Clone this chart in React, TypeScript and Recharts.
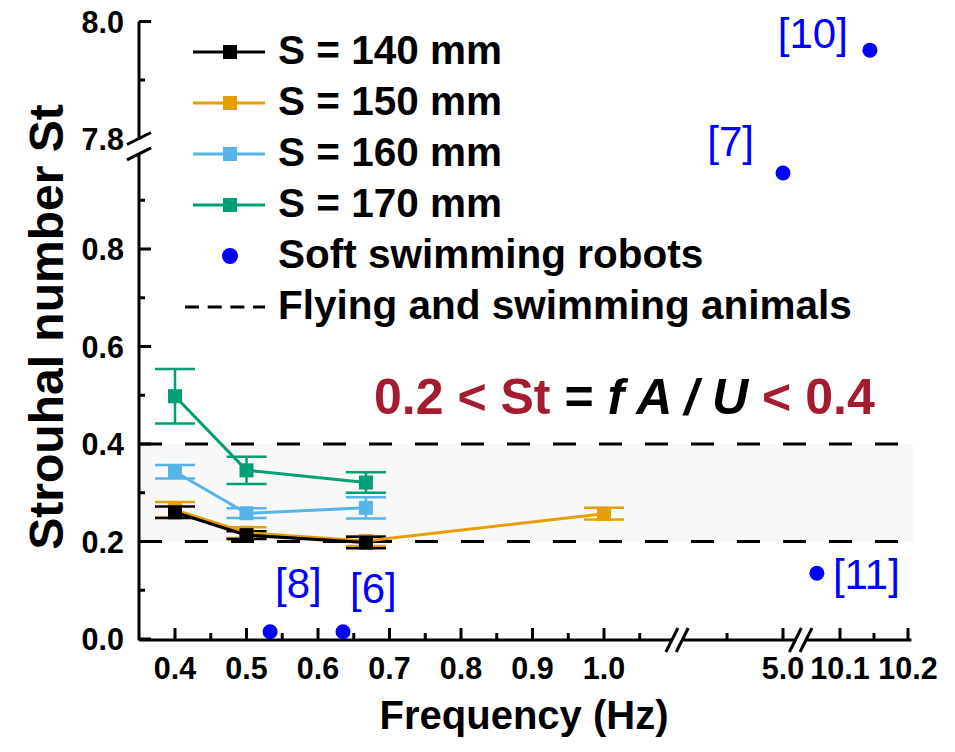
import React from 'react'
import {
  ComposedChart,
  Scatter,
  XAxis,
  YAxis,
  ErrorBar,
  ReferenceLine,
  ReferenceArea,
} from 'recharts'

// frequencies (Hz) and Strouhal numbers
const freqs = [0.4, 0.5, 0.667]
const freqs150 = [0.4, 0.5, 0.667, 1.0]

const st140 = [0.26, 0.213, 0.198]
const err140 = [0.012, 0.008, 0.012]
const st150 = [0.265, 0.218, 0.201, 0.257]
const err150 = [0.016, 0.011, 0.01, 0.012]
const st160 = [0.343, 0.258, 0.269]
const err160 = [0.014, 0.01, 0.022]
const st170 = [0.498, 0.346, 0.321]
const err170 = [0.056, 0.028, 0.021]

const robotRefs = ['[8]', '[6]', '[7]', '[11]', '[10]']
const robotFreq = [0.533, 0.635, 5.0, 10.066, 10.144]
const robotSt = [0.015, 0.015, 0.956, 0.135, 7.951]

const xMajorTicks = [0.4, 0.5, 0.6, 0.7, 0.8, 0.9, 1.0, 5.0, 10.1, 10.2]
const xMinorTicks = [0.45, 0.55, 0.65, 0.75, 0.85, 0.95, 1.05, 4.95, 10.15]
const yMajorTicks = [0, 0.2, 0.4, 0.6, 0.8, 8.0]
const yMinorTicks = [0.1, 0.3, 0.5, 0.7, 0.9, 7.9]
const yLabelOnlyTicks = [7.8]

// broken axes: each piece maps a value range onto a stretch of the plot
const X_PIECES = [
  { from: 0.35, to: 1.095, v0: 0.4, p0: 36, k: 715 },
  { from: 4.91, to: 5.011, v0: 5.0, p0: 644, k: 1120 },
  { from: 10.05, to: 10.205, v0: 10.1, p0: 701, k: 680 },
]
const Y_PIECES = [
  { from: 0, to: 0.995, v0: 0, p0: 0, k: 487.5 },
  { from: 7.8, to: 8.0, v0: 7.8, p0: 500.5, k: 585 },
]
const PLOT_W = 774
const PLOT_H = 624

type Piece = { from: number; to: number; v0: number; p0: number; k: number }
const pieceFor = (pieces: Piece[], v: number) =>
  pieces.find((p) => v >= p.from - 0.02 && v <= p.to + 0.02) ?? pieces[0]
const mapX = (v: number) => {
  const p = pieceFor(X_PIECES, v)
  return p.p0 + (v - p.v0) * p.k
}
const mapY = (v: number) => {
  const p = pieceFor(Y_PIECES, v)
  return p.p0 + (v - p.v0) * p.k
}

const FONT = 'Liberation Sans, Arial, Helvetica, sans-serif'
const RED = '#A51C30'
const BLUE = '#0000FF'

const series = [
  { name: 'S = 150 mm', color: '#E69F00', f: freqs150, st: st150, err: err150 },
  { name: 'S = 140 mm', color: '#000000', f: freqs, st: st140, err: err140 },
  { name: 'S = 160 mm', color: '#56B4E9', f: freqs, st: st160, err: err160 },
  { name: 'S = 170 mm', color: '#009E73', f: freqs, st: st170, err: err170 },
]

const toPoints = (f: number[], st: number[], err: number[]) =>
  f.map((v, i) => ({
    dx: mapX(v),
    dy: mapY(st[i]),
    err: err[i] * pieceFor(Y_PIECES, st[i]).k,
  }))

const robotData = robotRefs.map((name, i) => ({
  name,
  dx: mapX(robotFreq[i]),
  dy: mapY(robotSt[i]),
}))

// where each citation sits relative to its dot
const refLabelPos: Record<string, { dx: number; dy: number; anchor: 'start' | 'end' }> = {
  '[8]': { dx: 5, dy: -34, anchor: 'start' },
  '[6]': { dx: 7, dy: -29, anchor: 'start' },
  '[7]': { dx: -29, dy: -17, anchor: 'end' },
  '[11]': { dx: 16, dy: 16, anchor: 'start' },
  '[10]': { dx: -22, dy: -2, anchor: 'end' },
}

const fmt = (v: number) => v.toFixed(1)

const xTickInfo = [
  ...xMajorTicks.map((v) => ({ d: mapX(v), label: fmt(v), len: 12 })),
  ...xMinorTicks.map((v) => ({ d: mapX(v), label: '', len: 7 })),
]
const yTickInfo = [
  ...yMajorTicks.map((v) => ({ d: mapY(v), label: fmt(v), len: 12 })),
  ...yMinorTicks.map((v) => ({ d: mapY(v), label: '', len: 6 })),
  ...yLabelOnlyTicks.map((v) => ({ d: mapY(v), label: fmt(v), len: 0 })),
]

const XTick = ({ x, y, payload }: any) => {
  const t = xTickInfo.find((t) => Math.abs(t.d - payload.value) < 0.01)
  if (!t) return null
  return (
    <g>
      <line x1={x} x2={x} y1={y + 1} y2={y + 1 - t.len} stroke="#000" strokeWidth={3} />
      {t.label && (
        <text x={x} y={y + 40} textAnchor="middle" fontSize={30.5} fontWeight="bold" fontFamily={FONT} fill="#000">
          {t.label}
        </text>
      )}
    </g>
  )
}

const YTick = ({ x, y, payload }: any) => {
  const t = yTickInfo.find((t) => Math.abs(t.d - payload.value) < 0.01)
  if (!t) return null
  return (
    <g>
      {t.len > 0 && <line x1={x} x2={x + t.len} y1={y} y2={y} stroke="#000" strokeWidth={3} />}
      {t.label && (
        <text x={x - 15} y={y + 11} textAnchor="end" fontSize={30.5} fontWeight="bold" fontFamily={FONT} fill="#000">
          {t.label}
        </text>
      )}
    </g>
  )
}

const square = (color: string) => (p: any) =>
  <rect x={p.cx - 7} y={p.cy - 7} width={14} height={14} fill={color} />

const robotShape = (p: any) => {
  const pos = refLabelPos[p.payload.name]
  return (
    <g>
      <circle cx={p.cx} cy={p.cy} r={7.5} fill={BLUE} />
      <text x={p.cx + pos.dx} y={p.cy + pos.dy} textAnchor={pos.anchor} fontSize={42} fontFamily={FONT} fill={BLUE}>
        {p.payload.name}
      </text>
    </g>
  )
}

// axis line pieces and break marks, in plot units
const xAxisPieces = X_PIECES.map((p) => [mapX(p.from), mapX(p.to)])
const yAxisPieces = Y_PIECES.map((p) => [mapY(p.from), mapY(p.to)])
const xBreaks = xAxisPieces.flatMap(([a, b], i) =>
  [i > 0 ? a : null, i < xAxisPieces.length - 1 ? b : null].filter((v) => v !== null) as number[])
const yBreaks = yAxisPieces.flatMap(([a, b], i) =>
  [i > 0 ? a : null, i < yAxisPieces.length - 1 ? b : null].filter((v) => v !== null) as number[])

const legendRows = [
  { label: 'S = 140 mm', color: '#000000', kind: 'line' },
  { label: 'S = 150 mm', color: '#E69F00', kind: 'line' },
  { label: 'S = 160 mm', color: '#56B4E9', kind: 'line' },
  { label: 'S = 170 mm', color: '#009E73', kind: 'line' },
  { label: 'Soft swimming robots', color: BLUE, kind: 'dot' },
  { label: 'Flying and swimming animals', color: '#000000', kind: 'dash' },
]

export default function App() {
  return (
    <div style={{ position: 'absolute', left: 0, top: 0, width: 955, height: 752, background: '#fff' }}>
      <ComposedChart width={955} height={752} margin={{ top: 15, right: 42, bottom: 0, left: 0 }}>
        <XAxis
          type="number"
          dataKey="dx"
          domain={[0, PLOT_W]}
          ticks={xTickInfo.map((t) => t.d)}
          interval={0}
          allowDataOverflow
          axisLine={false}
          tickLine={false}
          tickSize={0}
          tickMargin={0}
          height={113}
          tick={<XTick />}
        />
        <YAxis
          type="number"
          dataKey="dy"
          domain={[0, PLOT_H]}
          ticks={yTickInfo.map((t) => t.d)}
          interval={0}
          allowDataOverflow
          axisLine={false}
          tickLine={false}
          tickSize={0}
          tickMargin={0}
          width={139}
          tick={<YTick />}
        />
        <ReferenceArea x1={0} x2={PLOT_W} y1={mapY(0.2)} y2={mapY(0.4)} fill="#F8F8F8" fillOpacity={1} stroke="none" />
        <ReferenceLine y={mapY(0.2)} stroke="#000" strokeWidth={3} strokeDasharray="23 23" />
        <ReferenceLine y={mapY(0.4)} stroke="#000" strokeWidth={3} strokeDasharray="23 23" />
        {xAxisPieces.map(([a, b], i) => (
          <ReferenceLine key={'xa' + i} segment={[{ x: a, y: -1 }, { x: b, y: -1 }]} stroke="#000" strokeWidth={3} ifOverflow="visible" />
        ))}
        {yAxisPieces.map(([a, b], i) => (
          <ReferenceLine key={'ya' + i} segment={[{ x: 0, y: a - 1.5 }, { x: 0, y: b }]} stroke="#000" strokeWidth={3} ifOverflow="visible" />
        ))}
        {xBreaks.map((c, i) => (
          <ReferenceLine key={'xb' + i} segment={[{ x: c - 6, y: -13 }, { x: c + 6, y: 11 }]} stroke="#000" strokeWidth={3} ifOverflow="visible" />
        ))}
        {yBreaks.map((c, i) => (
          <ReferenceLine key={'yb' + i} segment={[{ x: -12, y: c - 6 }, { x: 12, y: c + 6 }]} stroke="#000" strokeWidth={3} ifOverflow="visible" />
        ))}
        {series.map((s) => (
          <Scatter
            key={s.name}
            name={s.name}
            data={toPoints(s.f, s.st, s.err)}
            fill={s.color}
            line={{ stroke: s.color, strokeWidth: 3 }}
            shape={square(s.color)}
            isAnimationActive={false}
          >
            <ErrorBar dataKey="err" direction="y" width={20} strokeWidth={2.5} stroke={s.color} />
          </Scatter>
        ))}
        <Scatter name="Soft swimming robots" data={robotData} fill={BLUE} shape={robotShape} isAnimationActive={false} />
      </ComposedChart>

      <svg width={955} height={752} style={{ position: 'absolute', left: 0, top: 0, pointerEvents: 'none' }}>
        {legendRows.map((r, i) => {
          const y = 52 + i * 51
          return (
            <g key={r.label}>
              {r.kind === 'line' && (
                <>
                  <line x1={193} x2={265} y1={y} y2={y} stroke={r.color} strokeWidth={3} />
                  <rect x={223} y={y - 7} width={14} height={14} fill={r.color} />
                </>
              )}
              {r.kind === 'dot' && <circle cx={230} cy={y} r={8} fill={r.color} />}
              {r.kind === 'dash' && (
                <line x1={185} x2={265} y1={y} y2={y} stroke={r.color} strokeWidth={3} strokeDasharray="14 8.7" />
              )}
              <text x={278} y={y + 12} fontSize={40.5} fontWeight="bold" fontFamily={FONT} fill="#000">
                {r.label}
              </text>
            </g>
          )
        })}
        <text x={374} y={414} fontSize={50} fontWeight="bold" fontFamily={FONT} style={{ whiteSpace: 'pre' }}>
          <tspan fill={RED}>0.2 &lt; St</tspan>
          <tspan fill="#000"> = </tspan>
          <tspan fill="#000" fontStyle="italic">f A / U </tspan>
          <tspan fill={RED}>&lt; 0.4</tspan>
        </text>
        <text
          transform="translate(63,327) rotate(-90)"
          textAnchor="middle"
          fontSize={48}
          fontWeight="bold"
          fontFamily={FONT}
          fill="#000"
        >
          Strouhal number St
        </text>
        <text x={524} y={729} textAnchor="middle" fontSize={40} fontWeight="bold" fontFamily={FONT} fill="#000">
          Frequency (Hz)
        </text>
      </svg>
    </div>
  )
}
